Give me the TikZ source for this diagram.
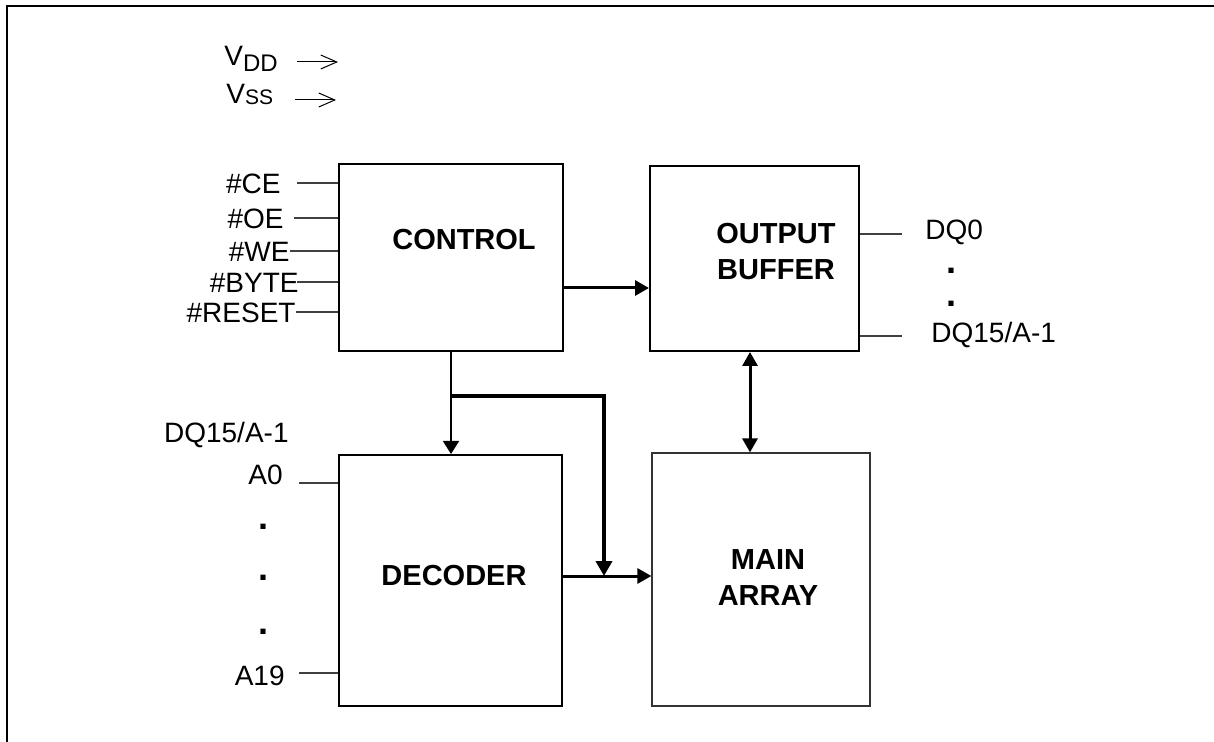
\documentclass[tikz,border=0pt]{standalone}
\usepackage{fontspec}
\setmainfont{Liberation Sans}
\usetikzlibrary{arrows.meta}

\tikzset{
  block/.style={draw, line width=1pt, inner sep=0pt},
  blocktext/.style={font=\fontsize{14.5}{18}\selectfont\bfseries, align=center, inner sep=0pt},
  pin/.style={font=\fontsize{14}{16}\selectfont, inner sep=0pt},
  dotmark/.style={font=\fontsize{18}{18}\selectfont\bfseries, inner sep=0pt},
  stub/.style={line width=0.6pt, black!75},
  supply/.style={line width=0.5pt, -{Straight Barb[length=8pt,width=7pt]}},
  tip/.style={-{Triangle[length=7pt,width=7.5pt]}},
}

\begin{document}
\begin{tikzpicture}[x=0.5pt,y=-0.5pt]
\useasboundingbox (0,0) rectangle (1214,742);

% frame
\draw[line width=1pt] (7,742) -- (7,6) -- (1214,6);

% supplies
\node[pin, anchor=base west] (vdd) at (224,66) {V\raisebox{-3pt}{\fontsize{12}{12}\selectfont DD}};
\node[pin, anchor=base west] (vss) at (226,104) {V\raisebox{-0.5pt}{\fontsize{10.5}{12}\selectfont SS}};
\coordinate (vddfrom) at (297,62);
\coordinate (vddto) at (338,62);
\coordinate (vssfrom) at (295,100);
\coordinate (vssto) at (336,100);
\draw[supply] (vddfrom) -- (vddto);
\draw[supply] (vssfrom) -- (vssto);

% blocks
\node[block, minimum width=112pt, minimum height=93.5pt] (ctrl) at (451,257.5) {};
\node[block, minimum width=104.5pt, minimum height=92.5pt] (outbuf) at (754.5,258.5) {};
\node[block, minimum width=111.5pt, minimum height=125.5pt] (dec) at (450.5,580.5) {};
\node[block, draw=black!80, line width=0.6pt, minimum width=109pt, minimum height=126.5pt] (mainarr) at (761,579.5) {};

\node[blocktext] (ctrltxt) at (464,240) {CONTROL};
\node[blocktext] (outtxt) at (776,251.5) {OUTPUT\\BUFFER};
\node[blocktext] (dectxt) at (454,576) {DECODER};
\node[blocktext] (maintxt) at (768,577.5) {MAIN\\ARRAY};

% control inputs
\foreach \name/\y/\tx/\lx [count=\i] in {{\#CE}/183/281/297, {\#OE}/218/284/294, {\#WE}/251/290/290, {\#BYTE}/282/299/297, {\#RESET}/312/296/296}
{
  \node[pin, anchor=base east] (cin\i) at (\tx,\y+10.5) {\name};
  \coordinate (cstub\i) at (\lx,\y);
  \draw[stub] (cstub\i) -- (cstub\i -| ctrl.west);
}

% decoder inputs
\node[pin, anchor=base east] (dqin) at (289,443) {DQ15/A-1};
\node[pin, anchor=base east] (ain0) at (283,485) {A0};
\node[pin, anchor=base east] (ain19) at (285,685) {A19};
\coordinate (astub0) at (299,483);
\coordinate (astub19) at (299,673);
\draw[stub] (astub0) -- (astub0 -| dec.west);
\draw[stub] (astub19) -- (astub19 -| dec.west);
\foreach \y [count=\i] in {527,578,632}
  \node[dotmark, anchor=base] (adot\i) at (263,\y+2) {.};

% outputs
\node[pin, anchor=base west] (dqout0) at (925,240) {DQ0};
\node[pin, anchor=base west] (dqout15) at (931,343) {DQ15/A-1};
\coordinate (ostub0) at (902,234);
\coordinate (ostub15) at (902,336);
\draw[stub] (outbuf.east |- ostub0) -- (ostub0);
\draw[stub] (outbuf.east |- ostub15) -- (ostub15);
\foreach \y [count=\i] in {272,305}
  \node[dotmark, anchor=base] (odot\i) at (951,\y+2) {.};

% connections
\coordinate (c2o) at (0,288);
\coordinate (split) at (ctrl.south |- 0,396);
\coordinate (join) at (604,576);
\coordinate (o2m) at (750,0);
\draw[line width=1.5pt, tip] (ctrl.east |- c2o) -- (outbuf.west |- c2o);
\draw[line width=0.8pt, -{Triangle[length=6.5pt,width=8pt]}] (ctrl.south) -- (ctrl.south |- dec.north);
\draw[line width=2pt, -{Triangle[length=7.5pt,width=8pt]}] (split) -| (join);
\draw[line width=1.5pt, tip] (dec.east |- join) -- (mainarr.west |- join);
\draw[line width=1.5pt, {Triangle[length=7pt,width=7.5pt]}-{Triangle[length=7pt,width=7.5pt]}] (outbuf.south -| o2m) -- (mainarr.north -| o2m);

\end{tikzpicture}
\end{document}
